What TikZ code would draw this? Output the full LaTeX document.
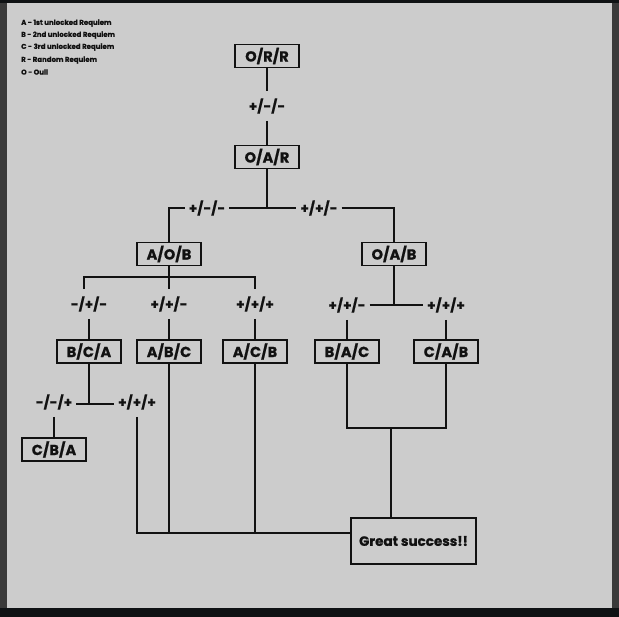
\documentclass[tikz,border=0pt]{standalone}
\usepackage{fontspec}
\setmainfont{Poppins}[BoldFeatures={FakeBold=0.8}]
\definecolor{bg}{HTML}{CCCCCC}
\definecolor{sidestrip}{HTML}{3A3A3A}
\definecolor{darkstrip}{HTML}{0F1214}
\definecolor{ink}{HTML}{111111}
\begin{document}
\begin{tikzpicture}[x=1pt,y=-1pt,
  box/.style={draw=ink,line width=1.8pt,fill=bg,minimum width=64pt,minimum height=23pt,inner sep=0pt,text=ink,font=\bfseries\fontsize{14.5}{14.5}\selectfont},
  lab/.style={inner xsep=4pt,inner ysep=7pt,text=ink,font=\bfseries\fontsize{13.5}{13.5}\selectfont},
  legend/.style={anchor=west,inner sep=0pt,text=ink,font=\bfseries\fontsize{7}{7}\selectfont},
  wire/.style={draw=ink,line width=1.4pt}]
\useasboundingbox (0,0) rectangle (619,617);
\fill[sidestrip] (0,0) rectangle (619,617);
\fill[bg] (7,3) rectangle (612,608);
\fill[darkstrip] (0,0) rectangle (619,3);
\fill[darkstrip] (0,608) rectangle (619,617);
% legend
\node[legend] (la) at (21,23) {A - 1st unlocked Requiem};
\node[legend] (lb) at (21,35) {B - 2nd unlocked Requiem};
\node[legend] (lc) at (21,47) {C - 3rd unlocked Requiem};
\node[legend] (lr) at (21,60) {R - Random Requiem};
\node[legend] (lo) at (21,72) {O - Oull};
% nodes
\node[box] (orr) at (267,56) {O/R/R};
\node[lab] (l1) at (267,106) {+/-/-};
\node[box] (oar) at (267,157) {O/A/R};
\node[lab] (l2) at (207,208) {+/-/-};
\node[lab] (l3) at (319,208) {+/+/-};
\node[box] (aob) at (169,254) {A/O/B};
\node[box] (oab) at (394,254) {O/A/B};
\node[lab] (l4) at (89,304) {-/+/-};
\node[lab] (l5) at (169,304) {+/+/-};
\node[lab] (l6) at (255,304) {+/+/+};
\node[box] (bca) at (89,351.5) {B/C/A};
\node[box] (abc) at (169,351.5) {A/B/C};
\node[box] (acb) at (255,351.5) {A/C/B};
\node[lab] (l7) at (54,402) {-/-/+};
\node[lab] (l8) at (137,402) {+/+/+};
\node[box] (cba) at (54,449.5) {C/B/A};
\node[lab] (l9) at (347,305) {+/+/-};
\node[lab] (l10) at (446,305) {+/+/+};
\node[box] (bac) at (347,351.5) {B/A/C};
\node[box] (cab) at (446,351.5) {C/A/B};
\node[box,minimum width=125pt,minimum height=46pt,font=\bfseries\fontsize{13.5}{13.5}\selectfont] (gs) at (413.5,541) {Great success!!};
% connectors
\draw[wire] (orr) -- (l1) -- (oar);
\coordinate (j1) at (oar.south |- l2);
\draw[wire] (oar) -- (j1);
\draw[wire] (l2) -- (j1) -- (l3);
\draw[wire] (l2) -| (aob);
\draw[wire] (l3) -| (oab);
\coordinate (h1) at (84,277);
\draw[wire] (aob) -- (l5);
\draw[wire] (h1 |- l4.north) -- (h1) -| (l6);
\draw[wire] (l4) -- (bca);
\draw[wire] (l5) -- (abc);
\draw[wire] (l6) -- (acb);
\coordinate (j2) at (bca.south |- 0,404);
\draw[wire] (bca) -- (j2);
\draw[wire] (l7.east |- j2) -- (l8.west |- j2);
\draw[wire] (l7) -- (cba);
\coordinate (b1) at (137,533);
\draw[wire] (l8) -- (b1) -- (gs.west |- b1);
\draw[wire] (abc) -- (abc |- b1);
\draw[wire] (acb) -- (acb |- b1);
\coordinate (j3) at (oab.south |- 0,305);
\draw[wire] (oab) -- (j3);
\draw[wire] (l9.east |- j3) -- (l10.west |- j3);
\draw[wire] (l9) -- (bac);
\draw[wire] (l10) -- (cab);
\coordinate (j4) at (391,428);
\draw[wire] (bac) |- (j4) -| (cab);
\draw[wire] (j4) -- (j4 |- gs.north);
\end{tikzpicture}
\end{document}
